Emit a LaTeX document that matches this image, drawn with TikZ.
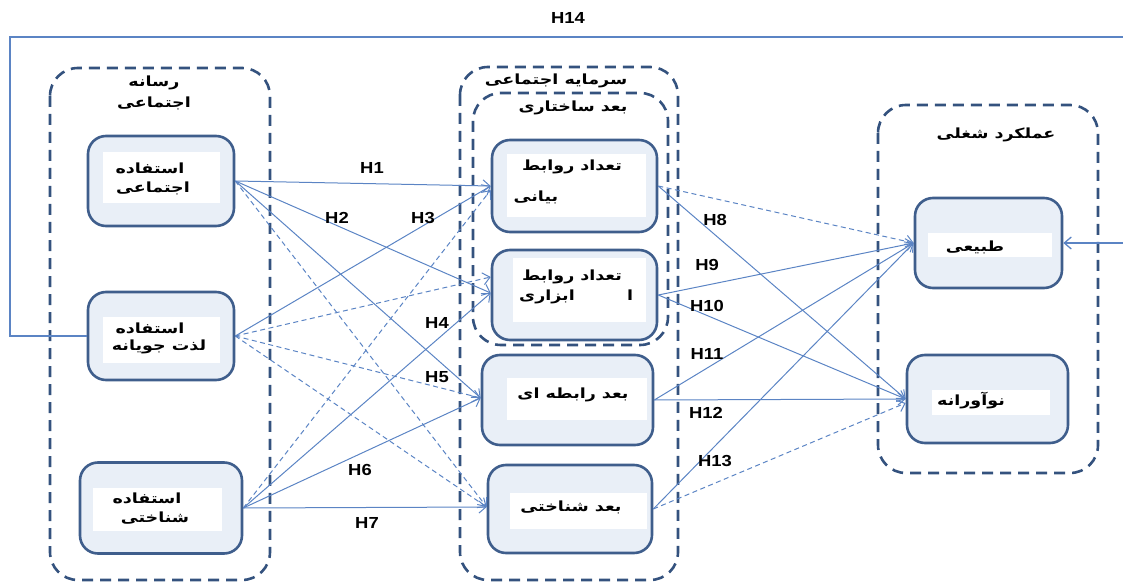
\documentclass[tikz,border=0pt]{standalone}
\usepackage{fontspec}
\usetikzlibrary{arrows.meta}
\TeXXeTstate=1
\newfontfamily\fa[Script=Arabic,FakeStretch=1.25]{DejaVu Sans}
\newfontfamily\hfont[FakeStretch=1.15]{Liberation Sans}
\definecolor{grpc}{HTML}{34527E}
\definecolor{boxc}{HTML}{3F5E8C}
\definecolor{boxf}{HTML}{E9EFF7}
\definecolor{arrc}{HTML}{5B84C4}
\begin{document}
\begin{tikzpicture}[x=1pt,y=-1pt,
  grp/.style={draw=grpc, line width=2.6pt, dash pattern=on 11pt off 7pt, rounded corners=28pt},
  box/.style={draw=boxc, line width=2.6pt, fill=boxf, rounded corners=18pt, inner sep=0pt},
  wb/.style={fill=white},
  arr/.style={draw=arrc, line width=1pt, -{Straight Barb[length=7pt,width=12pt]}},
  darr/.style={arr, dash pattern=on 5pt off 3.5pt},
  hl/.style={font=\hfont\bfseries\fontsize{16}{16}\selectfont, text=black, inner sep=0pt},
  fat/.style={font=\fa\bfseries\fontsize{14}{14}\selectfont, text=black, inner sep=0pt}
]
\useasboundingbox (0,0) rectangle (1123,585);

% groups
\draw[grp] (50,68) rectangle (270,580);
\draw[grp] (460,67) rectangle (678,580);
\draw[grp] (473,93) rectangle (668,345);
\draw[grp] (878,105) rectangle (1098,473);

% nodes
\node[box, minimum width=146pt, minimum height=90pt] (ej) at (161,181) {};
\node[box, minimum width=146pt, minimum height=88pt] (lz) at (161,336) {};
\node[box, minimum width=162pt, minimum height=91pt] (sh) at (161,508) {};
\node[box, minimum width=165pt, minimum height=92pt] (bn) at (574.5,186) {};
\node[box, minimum width=165pt, minimum height=90pt] (ab) at (574.5,295) {};
\node[box, minimum width=171pt, minimum height=90pt] (rb) at (567.5,400) {};
\node[box, minimum width=164pt, minimum height=88pt] (bs) at (570,509) {};
\node[box, minimum width=147pt, minimum height=90pt] (tb) at (988.5,243) {};
\node[box, minimum width=161pt, minimum height=88pt] (nv) at (987.5,399) {};

% white text areas
\fill[wb] (103,152) rectangle (220,203);
\fill[wb] (103,317) rectangle (220,363);
\fill[wb] (93,488) rectangle (222,531);
\fill[wb] (507,154) rectangle (646,217);
\fill[wb] (513,258) rectangle (646,322);
\fill[wb] (507,378) rectangle (647,420);
\fill[wb] (510,493) rectangle (647,529);
\fill[wb] (928,233) rectangle (1052,257);
\fill[wb] (932,390) rectangle (1050,415);

% connectors left -> middle
\draw[arr]  (ej.east) -- (bn.west);
\draw[arr]  (ej.east) -- ([yshift=2pt]ab.west);
\draw[arr]  (ej.east) -- ([yshift=2pt]rb.west);
\draw[darr] (ej.east) -- ([yshift=2pt]bs.west);
\draw[arr]  (lz.east) -- (bn.west);
\draw[darr] (lz.east) -- ([yshift=18pt]ab.west);
\draw[darr] (lz.east) -- ([yshift=2pt]rb.west);
\draw[darr] (lz.east) -- ([yshift=2pt]bs.west);
\draw[darr] (sh.east) -- ([yshift=-4pt]bn.west);
\draw[arr]  (sh.east) -- ([yshift=2pt]ab.west);
\draw[arr]  (sh.east) -- ([yshift=2pt]rb.west);
\draw[arr]  (sh.east) -- ([yshift=2pt]bs.west);

% connectors middle -> right
\draw[darr] (bn.east) -- (tb.west);
\draw[arr]  (bn.east) -- (nv.west);
\draw[arr]  (ab.east) -- (tb.west);
\draw[arr]  (ab.east) -- (nv.west);
\draw[arr]  (rb.east) -- (tb.west);
\draw[arr]  (rb.east) -- (nv.west);
\draw[arr]  (bs.east) -- (tb.west);
\draw[darr] (bs.east) -- ([yshift=-4pt]nv.west);

% H14 loop
\coordinate (c1) at (10,336);
\coordinate (c2) at (10,37);
\coordinate (c3) at (1130,37);
\coordinate (c4) at (1130,243);
\draw[arr, line width=1.3pt] (lz.west) -- (c1) -- (c2) -- (c3) -- (c4) -- (tb.east);

% H labels
\node[hl] (h1) at (372,168) {H1};
\node[hl] (h2) at (337,218) {H2};
\node[hl] (h3) at (423,218) {H3};
\node[hl] (h4) at (437,323) {H4};
\node[hl] (h5) at (437,377) {H5};
\node[hl] (h6) at (360,470) {H6};
\node[hl] (h7) at (367,523) {H7};
\node[hl] (h8) at (715,220) {H8};
\node[hl] (h9) at (707,265) {H9};
\node[hl] (h10) at (707,306) {H10};
\node[hl] (h11) at (707,354) {H11};
\node[hl] (h12) at (706,413) {H12};
\node[hl] (h13) at (715,461) {H13};
\node[hl] (h14) at (568,18) {H14};

% Persian texts
\node[fat] (gl1) at (154,83) {\beginR رسانه\endR};
\node[fat] (gl2) at (154,103) {\beginR اجتماعی\endR};
\node[fat] (ej1) at (150,168) {\beginR استفاده\endR};
\node[fat] (ej2) at (153,188) {\beginR اجتماعی\endR};
\node[fat] (lz1) at (150,328) {\beginR استفاده\endR};
\node[fat] (lz2) at (159,347) {\beginR لذت جویانه\endR};
\node[fat] (sh1) at (147,498) {\beginR استفاده\endR};
\node[fat] (sh2) at (155,518) {\beginR شناختی\endR};
\node[fat] (gm1) at (556,81) {\beginR سرمایه اجتماعی\endR};
\node[fat] (gm2) at (573,108) {\beginR بعد ساختاری\endR};
\node[fat] (bn1) at (572,167) {\beginR تعداد\hspace{6pt}روابط\endR};
\node[fat] (bn2) at (536,197) {\beginR بیانی\endR};
\node[fat] (ab1) at (572,277) {\beginR تعداد\hspace{6pt}روابط\endR};
\node[fat] (ab2) at (547,297) {\beginR ابزاری\endR};
\node[fat] (abx) at (630,295) {ا};
\node[fat] (rb1) at (573,395) {\beginR بعد رابطه ای\endR};
\node[fat] (bs1) at (571,507) {\beginR بعد شناختی\endR};
\node[fat] (gr1) at (996,135) {\beginR عملکرد شغلی\endR};
\node[fat] (tb1) at (975,247) {\beginR طبیعی\endR};
\node[fat] (nv1) at (971,401) {\beginR نوآورانه\endR};
\end{tikzpicture}
\end{document}
